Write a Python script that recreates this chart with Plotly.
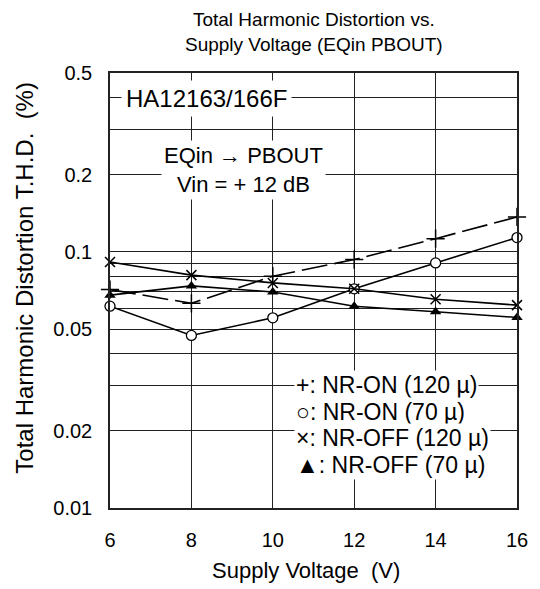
import math
import plotly.graph_objects as go

# ---- data ----
supply_voltage = [6, 8, 10, 12, 14, 16]
nr_on_120 = [0.0713, 0.0630, 0.0804, 0.0934, 0.1127, 0.1370]
nr_on_70 = [0.0614, 0.0472, 0.0553, 0.0718, 0.0906, 0.1138]
nr_off_120 = [0.0914, 0.0812, 0.0757, 0.0718, 0.0654, 0.0620]
nr_off_70 = [0.0678, 0.0737, 0.0698, 0.0614, 0.0584, 0.0555]

x_ticks = [6, 8, 10, 12, 14, 16]
y_ticks = [0.01, 0.02, 0.05, 0.1, 0.2, 0.5]
y_tick_labels = ["0.01", "0.02", "0.05", "0.1", "0.2", "0.5"]
y_minor = [0.03, 0.04, 0.06, 0.07, 0.08, 0.09, 0.3, 0.4]

legend_lines = ["+: NR-ON (120 µ)", "○: NR-ON (70 µ)", "×: NR-OFF (120 µ)", "▲: NR-OFF (70 µ)"]

FONT = "Liberation Sans, Arial, sans-serif"
W, H = 540, 589
ML, MR, MT, MB = 110, 15, 73, 81
PW, PH = W - ML - MR, H - MT - MB


def px(xp):
    return (xp - ML) / PW


def py(yp):
    return (H - MB - yp) / PH


fig = go.Figure()
fig.add_trace(go.Scatter(
    x=supply_voltage, y=nr_on_120, mode="lines+markers", cliponaxis=False,
    line=dict(color="black", width=1.6, dash="26px,7px"),
    marker=dict(symbol="cross-thin", size=13, line=dict(color="black", width=1.5)),
))
fig.add_trace(go.Scatter(
    x=supply_voltage, y=nr_on_70, mode="lines+markers", cliponaxis=False,
    line=dict(color="black", width=1.6),
    marker=dict(symbol="circle", size=10, color="white", line=dict(color="black", width=1.3)),
))
fig.add_trace(go.Scatter(
    x=supply_voltage, y=nr_off_120, mode="lines+markers", cliponaxis=False,
    line=dict(color="black", width=1.6),
    marker=dict(symbol="x-thin", size=10, line=dict(color="black", width=1.5)),
))
fig.add_trace(go.Scatter(
    x=supply_voltage, y=nr_off_70, mode="lines+markers", cliponaxis=False,
    line=dict(color="black", width=1.6),
    marker=dict(symbol="triangle-up", size=10, color="black", line=dict(width=0)),
))

ann = []
# title
ann.append(dict(text="Total Harmonic Distortion vs.<br>Supply Voltage (EQin PBOUT)",
                x=px(318), y=py(32), xref="paper", yref="paper", showarrow=False,
                xanchor="center", yanchor="middle", font=dict(size=19, color="black")))
# axis titles
ann.append(dict(text="Total Harmonic Distortion T.H.D.  (%)", textangle=-90,
                x=px(22), y=py(278), xref="paper", yref="paper", showarrow=False,
                xanchor="center", yanchor="middle", font=dict(size=24, color="black")))
ann.append(dict(text="Supply Voltage  (V)",
                x=px(310), y=py(570), xref="paper", yref="paper", showarrow=False,
                xanchor="center", yanchor="middle", font=dict(size=22, color="black")))
# in-plot labels
ann.append(dict(text="HA12163/166F", x=px(208), y=py(99), xref="paper", yref="paper",
                showarrow=False, xanchor="center", yanchor="middle", bgcolor="white",
                borderpad=4, font=dict(size=24, color="black")))
ann.append(dict(text="EQin → PBOUT<br>Vin = + 12 dB", x=px(246), y=py(170), xref="paper",
                yref="paper", showarrow=False, xanchor="center", yanchor="middle",
                bgcolor="white", borderpad=2, font=dict(size=22, color="black")))
legend_y = [385, 411.7, 438.3, 465]
for t, yy in zip(legend_lines, legend_y):
    ann.append(dict(text=t, x=px(298), y=py(yy), xref="paper", yref="paper",
                    showarrow=False, xanchor="left", yanchor="middle", bgcolor="white",
                    borderpad=1, font=dict(size=23, color="black")))

fig.update_layout(
    width=W, height=H,
    margin=dict(l=ML, r=MR, t=MT, b=MB),
    paper_bgcolor="white", plot_bgcolor="white",
    showlegend=False,
    font=dict(family=FONT, color="black"),
    annotations=ann,
    xaxis=dict(range=[6, 16], tickvals=x_ticks, ticktext=[str(v) for v in x_ticks],
               showgrid=True, gridcolor="#222", gridwidth=1, zeroline=False,
               showline=True, linecolor="#222", linewidth=1.5, mirror=True,
               ticks="", ticklabelstandoff=13, tickfont=dict(size=20, color="black")),
    yaxis=dict(type="log", range=[-2, math.log10(0.5)], tickvals=y_ticks, ticktext=y_tick_labels,
               showgrid=True, gridcolor="#222", gridwidth=1, zeroline=False,
               showline=True, linecolor="#222", linewidth=1.5, mirror=True,
               ticks="", ticklabelstandoff=12, tickfont=dict(size=20, color="black")),
    )
fig.update_yaxes(minor=dict(tickvals=y_minor, showgrid=True, gridcolor="#222", gridwidth=1, ticks=""))

fig.write_html("out.html", config={"displayModeBar": False},
               post_script="document.body.style.margin='0';")
